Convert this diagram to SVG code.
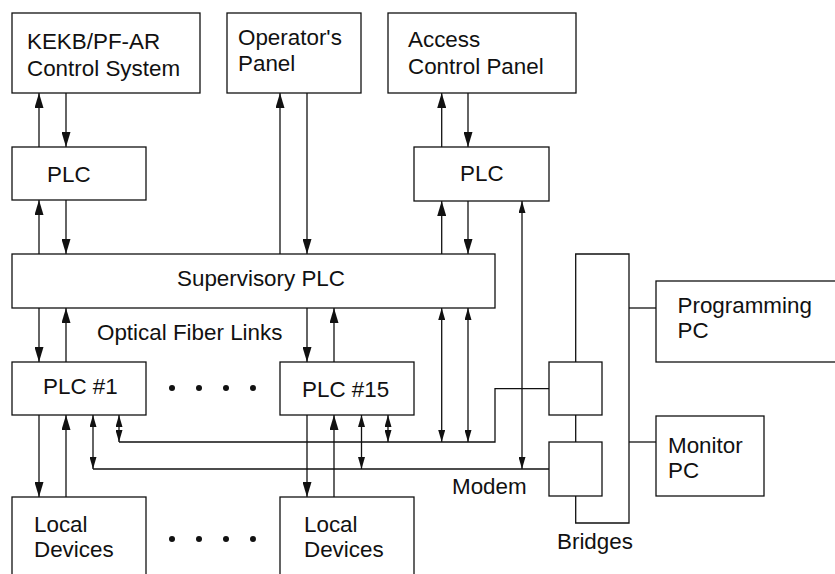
<svg xmlns="http://www.w3.org/2000/svg" width="835" height="574" viewBox="0 0 835 574">
  <style>
    .box { fill: #fff; stroke: #111; stroke-width: 1.3; }
    .ln { fill: none; stroke: #111; stroke-width: 1.3; }
    .big { marker-end: url(#headL); }
    .sm2 { marker-start: url(#headS); marker-end: url(#headS); }
    text { font-family: "Liberation Sans", Arial, sans-serif; font-size: 22.4px; fill: #111; }
    .dot { fill: #111; }
  </style>
  <defs>
    <marker id="headL" markerUnits="userSpaceOnUse" markerWidth="15" markerHeight="9" refX="15" refY="4.5" orient="auto-start-reverse">
      <path d="M0,0 L15,4.5 L0,9 z" fill="#111"/>
    </marker>
    <marker id="headS" markerUnits="userSpaceOnUse" markerWidth="12" markerHeight="7" refX="12" refY="3.5" orient="auto-start-reverse">
      <path d="M0,0 L12,3.5 L0,7 z" fill="#111"/>
    </marker>
  </defs>

  <!-- signal paths between the blocks -->
  <g id="connectors">
    <!-- KEKB/PF-AR control system <-> PLC -->
    <line class="ln big" x1="39" y1="147" x2="39" y2="93"/>
    <line class="ln big" x1="66" y1="93" x2="66" y2="147"/>
    <!-- PLC <-> supervisory PLC -->
    <line class="ln big" x1="39" y1="254" x2="39" y2="200"/>
    <line class="ln big" x1="66" y1="200" x2="66" y2="254"/>
    <!-- operator's panel <-> supervisory PLC -->
    <line class="ln big" x1="280" y1="254" x2="280" y2="93"/>
    <line class="ln big" x1="307" y1="93" x2="307" y2="254"/>
    <!-- access control panel <-> PLC -->
    <line class="ln big" x1="441.7" y1="147" x2="441.7" y2="93"/>
    <line class="ln big" x1="468" y1="93" x2="468" y2="147"/>
    <!-- PLC <-> supervisory PLC (right) -->
    <line class="ln big" x1="441.7" y1="254" x2="441.7" y2="201"/>
    <line class="ln big" x1="468" y1="201" x2="468" y2="254"/>
    <!-- optical fiber links to the field PLCs -->
    <line class="ln big" x1="39" y1="308" x2="39" y2="362"/>
    <line class="ln big" x1="66" y1="362" x2="66" y2="308"/>
    <line class="ln big" x1="307" y1="308" x2="307" y2="362"/>
    <line class="ln big" x1="334" y1="362" x2="334" y2="308"/>
    <!-- field PLCs <-> local devices -->
    <line class="ln big" x1="39" y1="415" x2="39" y2="497"/>
    <line class="ln big" x1="66" y1="497" x2="66" y2="415"/>
    <line class="ln big" x1="307" y1="415" x2="307" y2="497"/>
    <line class="ln big" x1="334" y1="497" x2="334" y2="415"/>
    <!-- supervisory PLC <-> upper network -->
    <line class="ln sm2" x1="441.7" y1="308" x2="441.7" y2="442"/>
    <line class="ln sm2" x1="468" y1="308" x2="468" y2="442"/>
    <!-- network taps on the field PLCs -->
    <line class="ln sm2" x1="93" y1="415" x2="93" y2="469"/>
    <line class="ln sm2" x1="119" y1="415" x2="119" y2="442"/>
    <line class="ln sm2" x1="361.5" y1="415" x2="361.5" y2="469"/>
    <line class="ln sm2" x1="388" y1="415" x2="388" y2="442"/>
    <!-- access PLC <-> lower network -->
    <line class="ln sm2" x1="522" y1="201" x2="522" y2="469"/>
    <!-- upper network to bridge -->
    <path class="ln" d="M119,442 H495 V388.7 H549"/>
    <!-- lower network to bridge -->
    <path class="ln" d="M93,469 H549"/>
    <!-- bridge bus -->
    <path class="ln" d="M575.7,362 V254 H629 V523 H575.7 V496"/>
    <path class="ln" d="M575.7,415 V442"/>
    <path class="ln" d="M629,308 H656"/>
    <path class="ln" d="M629,442 H656"/>
  </g>

  <g id="kekb-control">
    <rect class="box" x="12" y="13" width="188" height="80"/>
    <text x="27" y="49">KEKB/PF-AR</text>
    <text x="27" y="76">Control System</text>
  </g>
  <g id="operators-panel">
    <rect class="box" x="227" y="13" width="134" height="80"/>
    <text x="238" y="45">Operator's</text>
    <text x="238" y="71">Panel</text>
  </g>
  <g id="access-panel">
    <rect class="box" x="388" y="13" width="188" height="80"/>
    <text x="408" y="47">Access</text>
    <text x="408" y="73.5">Control Panel</text>
  </g>
  <g id="plc-left">
    <rect class="box" x="12" y="147" width="134" height="53"/>
    <text x="47" y="181.5">PLC</text>
  </g>
  <g id="plc-right">
    <rect class="box" x="414" y="147" width="135" height="54"/>
    <text x="460" y="181">PLC</text>
  </g>
  <g id="supervisory-plc">
    <rect class="box" x="12" y="254" width="483" height="54"/>
    <text x="177" y="286">Supervisory PLC</text>
  </g>
  <g id="fiber-label">
    <text x="97" y="340">Optical Fiber Links</text>
  </g>
  <g id="plc-1">
    <rect class="box" x="12" y="362" width="134" height="53"/>
    <text x="43" y="394">PLC #1</text>
  </g>
  <g id="plc-dots">
    <circle class="dot" cx="172" cy="388" r="3"/>
    <circle class="dot" cx="199" cy="388" r="3"/>
    <circle class="dot" cx="226" cy="388" r="3"/>
    <circle class="dot" cx="253" cy="388" r="3"/>
  </g>
  <g id="plc-15">
    <rect class="box" x="280" y="362" width="134" height="53"/>
    <text x="302" y="397">PLC #15</text>
  </g>
  <g id="local-devices-1">
    <rect class="box" x="12" y="497" width="134" height="100"/>
    <text x="34" y="532">Local</text>
    <text x="34" y="557">Devices</text>
  </g>
  <g id="device-dots">
    <circle class="dot" cx="172" cy="539" r="3"/>
    <circle class="dot" cx="199" cy="539" r="3"/>
    <circle class="dot" cx="226" cy="539" r="3"/>
    <circle class="dot" cx="253" cy="539" r="3"/>
  </g>
  <g id="local-devices-15">
    <rect class="box" x="280" y="497" width="134" height="100"/>
    <text x="304" y="532">Local</text>
    <text x="304" y="557">Devices</text>
  </g>
  <g id="bridge-upper">
    <rect class="box" x="549" y="362" width="53" height="53"/>
  </g>
  <g id="bridge-lower">
    <rect class="box" x="549" y="442" width="53" height="54"/>
  </g>
  <g id="modem-label">
    <text x="452" y="494">Modem</text>
  </g>
  <g id="bridges-label">
    <text x="557" y="549">Bridges</text>
  </g>
  <g id="programming-pc">
    <rect class="box" x="656" y="281" width="200" height="81"/>
    <text x="677.5" y="313">Programming</text>
    <text x="677.5" y="338">PC</text>
  </g>
  <g id="monitor-pc">
    <rect class="box" x="656" y="416" width="108" height="80"/>
    <text x="668" y="453">Monitor</text>
    <text x="668" y="478">PC</text>
  </g>
</svg>
